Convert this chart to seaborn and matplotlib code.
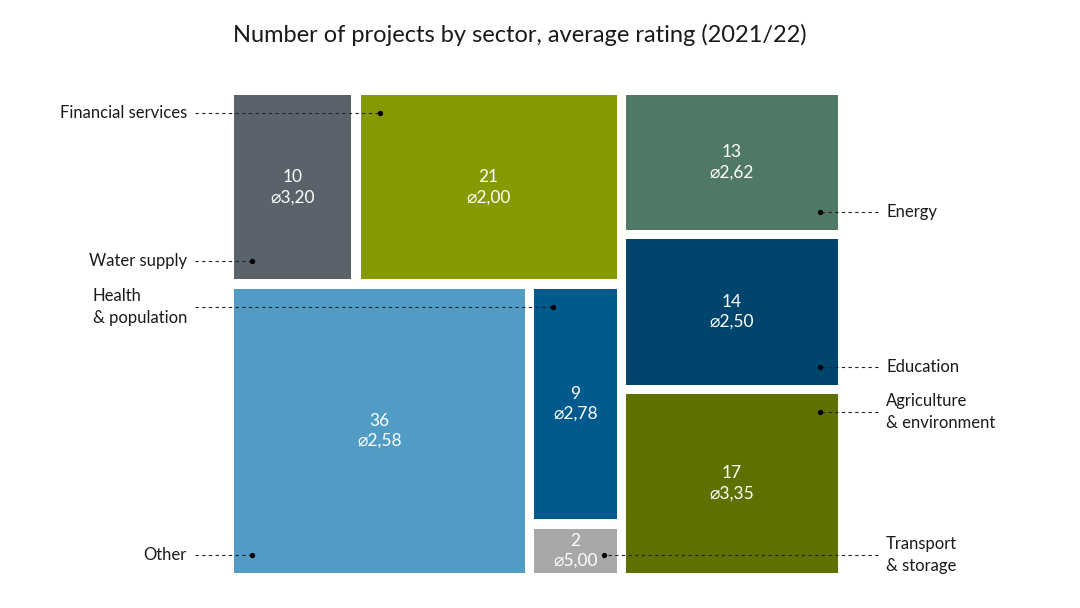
import matplotlib
matplotlib.use("Agg")
import matplotlib.pyplot as plt
import seaborn as sns

# ---- data ----
sectors = ["Water supply", "Financial services", "Energy", "Education",
           "Agriculture\n& environment", "Other", "Health\n& population",
           "Transport\n& storage"]
projects = [10, 21, 13, 14, 17, 36, 9, 2]
ratings = [3.20, 2.00, 2.62, 2.50, 3.35, 2.58, 2.78, 5.00]
colors = ["#5a636b", "#869900", "#507866", "#00456e", "#5e7000",
          "#519cc4", "#005a8d", "#a8a8a8"]
title = "Number of projects by sector, average rating (2021/22)"

# treemap structure: 'h' = side by side, 'v' = stacked
structure = ("h", [("v", [("h", [0, 1]), ("h", [5, ("v", [6, 7])])]),
                   ("v", [2, 3, 4])])

sns.set_theme(style="white")
plt.rcParams["font.family"] = ["Lato", "DejaVu Sans"]

W, H = 1080, 608
fig = plt.figure(figsize=(W / 100, H / 100), dpi=100)
gap = 9.5
ax_l, ax_r, ax_t, ax_b = 229.5, 842.5, 90.5, 577.5
axw, axh = ax_r - ax_l, ax_b - ax_t
ax = fig.add_axes([ax_l / W, 1 - ax_b / H, axw / W, axh / H])
ax.set_xlim(0, 1)
ax.set_ylim(1, 0)
ax.axis("off")


def weight(node):
    if isinstance(node, int):
        return projects[node]
    return sum(weight(c) for c in node[1])


rects = {}


def layout(node, x, y, w, h):
    if isinstance(node, int):
        rects[node] = (x, y, w, h)
        return
    orient, children = node
    tot = weight(node)
    pos = 0.0
    for c in children:
        f = weight(c) / tot
        if orient == "h":
            layout(c, x + pos * w, y, f * w, h)
        else:
            layout(c, x, y + pos * h, w, f * h)
        pos += f


layout(structure, 0, 0, 1, 1)

gx, gy = gap / 2 / axw, gap / 2 / axh
px = lambda p: p / axw
py = lambda p: p / axh

for i in range(len(projects)):
    x, y, w, h = rects[i]
    x0, y0, w0, h0 = x + gx, y + gy, w - 2 * gx, h - 2 * gy
    rects[i] = (x0, y0, w0, h0)
    ax.bar(x0, h0, width=w0, bottom=y0, align="edge", color=colors[i],
           edgecolor="none")
    cx, cy = x0 + w0 / 2, y0 + h0 / 2
    ax.text(cx, cy - py(10), f"{projects[i]}", color="white", fontsize=12.5,
            ha="center", va="center")
    ax.text(cx, cy + py(10), "⌀" + f"{ratings[i]:.2f}".replace(".", ","),
            color="white", fontsize=12.5, ha="center", va="center")

# leader anchors: (corner, side)
anchors = {0: "bl", 1: "tl", 2: "br", 3: "br", 4: "tr", 5: "bl", 6: "tl",
           7: "rm"}
off = 18
left_end, left_text = px(195 - ax_l), px(187 - ax_l)
right_end, right_text = px(878 - ax_l), px(886 - ax_l)
for i, a in anchors.items():
    x0, y0, w0, h0 = rects[i]
    if a == "bl":
        dx, dy = x0 + px(off), y0 + h0 - py(off)
    elif a == "tl":
        dx, dy = x0 + px(off + 1), y0 + py(off)
    elif a == "br":
        dx, dy = x0 + w0 - px(off), y0 + h0 - py(off)
    elif a == "tr":
        dx, dy = x0 + w0 - px(off), y0 + py(off)
    else:
        dx, dy = x0 + w0 - px(13), y0 + h0 / 2 + py(4)
    if a in ("bl", "tl"):
        lx, tx, ha = left_end, left_text, "right"
    else:
        lx, tx, ha = right_end, right_text, "left"
    ax.plot([lx, dx], [dy, dy], color="#222222", lw=0.8,
            linestyle=(0, (3, 3)), clip_on=False)
    ax.plot([dx], [dy], "o", color="black", markersize=2.8, clip_on=False)
    ax.text(tx, dy, sectors[i], ha=ha, va="center", fontsize=12,
            color="#1a1a1a", linespacing=1.45, multialignment="left",
            clip_on=False)

fig.text(520 / W, 1 - 35 / H, title, ha="center", va="center", fontsize=17,
         color="#1a1a1a")

fig.savefig("out.png", dpi=100)
